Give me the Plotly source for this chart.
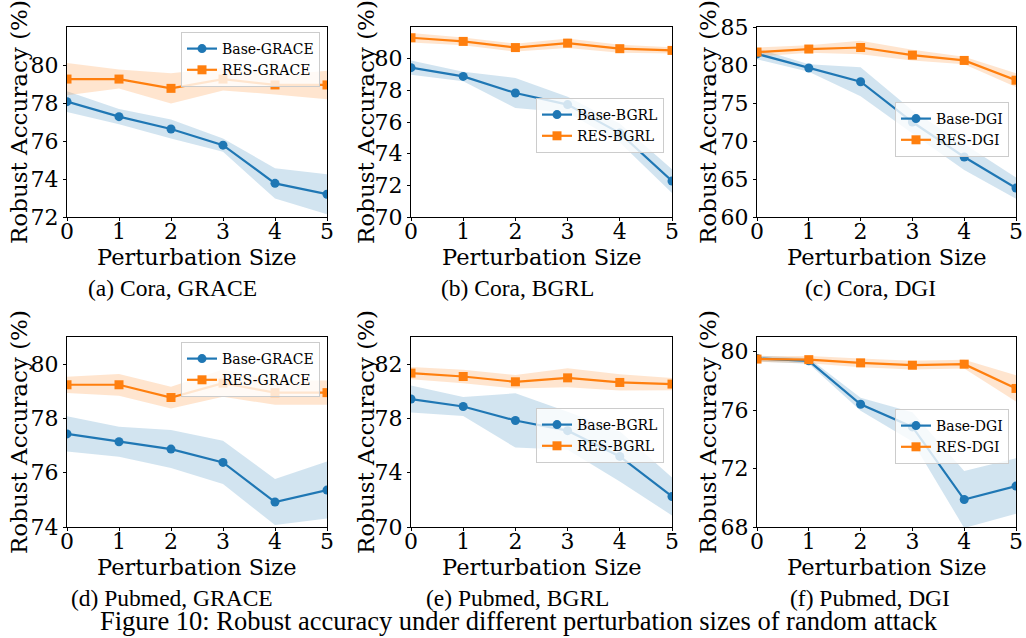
import plotly.graph_objects as go

W, H = 1026, 638

perturbation = [0, 1, 2, 3, 4, 5]
x_ticks = [0, 1, 2, 3, 4, 5]

# (a) Cora, GRACE
a_base_mean = [78.07, 77.28, 76.63, 75.78, 73.77, 73.20]
a_base_std = [0.55, 0.40, 0.50, 0.35, 0.80, 1.05]
a_res_mean = [79.26, 79.26, 78.77, 79.26, 78.95, 78.95]
a_res_std = [0.85, 0.50, 0.80, 0.60, 0.50, 0.75]
# (b) Cora, BGRL
b_base_mean = [79.43, 78.88, 77.83, 77.10, 75.30, 72.27]
b_base_std = [0.45, 0.30, 0.95, 0.50, 0.60, 0.75]
b_res_mean = [81.32, 81.09, 80.70, 80.98, 80.63, 80.52]
b_res_std = [0.30, 0.25, 0.25, 0.30, 0.25, 0.20]
# (c) Cora, DGI
c_base_mean = [81.46, 79.60, 77.80, 72.50, 67.90, 63.80]
c_base_std = [0.70, 0.50, 1.90, 1.50, 1.70, 1.40]
c_res_mean = [81.70, 82.10, 82.30, 81.30, 80.60, 78.00]
c_res_std = [0.60, 0.50, 0.90, 0.70, 0.50, 0.90]
# (d) Pubmed, GRACE
d_base_mean = [77.43, 77.14, 76.87, 76.38, 74.92, 75.36]
d_base_std = [0.65, 0.55, 0.70, 0.80, 0.85, 1.05]
d_res_mean = [79.24, 79.24, 78.77, 79.30, 78.95, 78.95]
d_res_std = [0.30, 0.40, 0.40, 0.50, 0.45, 0.45]
# (e) Pubmed, BGRL
e_base_mean = [79.43, 78.88, 77.85, 77.10, 75.20, 72.25]
e_base_std = [1.00, 0.70, 2.00, 1.40, 1.85, 1.40]
e_res_mean = [81.34, 81.09, 80.70, 80.99, 80.65, 80.53]
e_res_std = [0.45, 0.50, 0.50, 0.70, 0.60, 0.45]
# (f) Pubmed, DGI
f_base_mean = [79.53, 79.37, 76.40, 74.85, 69.88, 70.80]
f_base_std = [0.20, 0.20, 0.45, 1.00, 1.95, 1.90]
f_res_mean = [79.49, 79.45, 79.23, 79.07, 79.14, 77.48]
f_res_std = [0.20, 0.25, 0.30, 0.30, 0.30, 0.90]

methods = ["GRACE", "BGRL", "DGI", "GRACE", "BGRL", "DGI"]
captions = ["(a) Cora, GRACE", "(b) Cora, BGRL", "(c) Cora, DGI",
            "(d) Pubmed, GRACE", "(e) Pubmed, BGRL", "(f) Pubmed, DGI"]
y_ranges = [[72, 82], [70, 82], [60, 85], [74, 81], [70, 84], [68, 81]]
y_tickvals = [[72, 74, 76, 78, 80], [70, 72, 74, 76, 78, 80], [60, 65, 70, 75, 80, 85],
              [74, 76, 78, 80], [70, 74, 78, 82], [68, 72, 76, 80]]
fig_title = "Figure 10: Robust accuracy under different perturbation sizes of random attack"
y_title = "Robust Accuracy (%)"
x_title = "Perturbation Size"

panels = [
    (a_base_mean, a_base_std, a_res_mean, a_res_std),
    (b_base_mean, b_base_std, b_res_mean, b_res_std),
    (c_base_mean, c_base_std, c_res_mean, c_res_std),
    (d_base_mean, d_base_std, d_res_mean, d_res_std),
    (e_base_mean, e_base_std, e_res_mean, e_res_std),
    (f_base_mean, f_base_std, f_res_mean, f_res_std),
]

# layout geometry (pixels)
col_x = [(67, 327), (411, 672), (757, 1016)]
row_y = [(27, 217), (337, 527)]
caption_cx = [172, 517, 870]
legend_right = [320, 664, 1009]
legend_top = [[32, 98, 102], [342, 408, 409]]
ytitle_off = [48, 45, 49]

BLUE = "#1f77b4"
ORANGE = "#ff7f0e"
BLUE_FILL = "rgba(31,119,180,0.2)"
ORANGE_FILL = "rgba(255,127,14,0.2)"
SERIF = "DejaVu Serif"
TIMES = "Liberation Serif"

fig = go.Figure()
layout = dict(width=W, height=H, margin=dict(l=0, r=0, t=0, b=0, autoexpand=False),
              paper_bgcolor="white", plot_bgcolor="white", showlegend=True)
annotations = []

for i, (bm, bs, rm, rs) in enumerate(panels):
    r, c = divmod(i, 3)
    sfx = "" if i == 0 else str(i + 1)
    xa, ya = "x" + sfx, "y" + sfx
    lg = "legend" + sfx
    x0, x1 = col_x[c]
    yt, yb = row_y[r]

    for mean, std, fill in [(bm, bs, BLUE_FILL), (rm, rs, ORANGE_FILL)]:
        upper = [m + s for m, s in zip(mean, std)]
        lower = [m - s for m, s in zip(mean, std)]
        fig.add_trace(go.Scatter(
            x=perturbation + perturbation[::-1], y=upper + lower[::-1],
            fill="toself", fillcolor=fill, line=dict(width=0), mode="lines",
            hoverinfo="skip", showlegend=False, xaxis=xa, yaxis=ya))
    for mean, col, sym, name in [
        (bm, BLUE, "circle", "Base-" + methods[i]),
        (rm, ORANGE, "square", "RES-" + methods[i]),
    ]:
        fig.add_trace(go.Scatter(
            x=perturbation, y=mean, mode="lines+markers", name=name,
            line=dict(color=col, width=2.2),
            marker=dict(symbol=sym, size=9, color=col),
            xaxis=xa, yaxis=ya, legend=lg))

    layout["xaxis" + sfx] = dict(
        domain=[x0 / W, x1 / W], anchor=ya, range=[0, 5], tickvals=x_ticks,
        showline=True, mirror=True, linecolor="black", linewidth=1,
        ticks="outside", ticklen=3, tickcolor="black", showgrid=False, zeroline=False,
        ticklabelstandoff=-8,
        tickfont=dict(family=SERIF, size=22, color="black"))
    layout["yaxis" + sfx] = dict(
        domain=[1 - yb / H, 1 - yt / H], anchor=xa, range=y_ranges[i], tickvals=y_tickvals[i],
        showline=True, mirror=True, linecolor="black", linewidth=1,
        ticks="outside", ticklen=3, tickcolor="black", showgrid=False, zeroline=False,
        tickfont=dict(family=SERIF, size=22, color="black"))
    layout[lg] = dict(
        x=legend_right[c] / W, y=1 - legend_top[r][c] / H, xanchor="right", yanchor="top",
        xref="paper", yref="paper",
        bgcolor="rgba(255,255,255,0.8)", bordercolor="#cccccc", borderwidth=1,
        font=dict(family=SERIF, size=14, color="black"), itemwidth=30,
        tracegroupgap=0)

    # axis titles
    annotations.append(dict(
        text=x_title, x=(x0 + x1) / 2 / W, y=1 - (yb + 40) / H, xref="paper", yref="paper",
        showarrow=False, xanchor="center", yanchor="middle",
        font=dict(family=SERIF, size=22.5, color="black")))
    annotations.append(dict(
        text=y_title, x=(x0 - ytitle_off[c]) / W, y=1 - (yt + yb) / 2 / H, xref="paper", yref="paper",
        showarrow=False, xanchor="center", yanchor="middle", textangle=-90,
        font=dict(family=SERIF, size=23, color="black")))
    # caption
    annotations.append(dict(
        text=captions[i], x=caption_cx[c] / W, y=1 - (yb + 71) / H, xref="paper", yref="paper",
        showarrow=False, xanchor="center", yanchor="middle",
        font=dict(family=TIMES, size=23.5, color="black")))

annotations.append(dict(
    text=fig_title, x=519 / W, y=1 - 621 / H, xref="paper", yref="paper",
    showarrow=False, xanchor="center", yanchor="middle",
    font=dict(family=TIMES, size=26.5, color="black")))

layout["annotations"] = annotations
fig.update_layout(**layout)
fig.write_html("out.html", config={"displayModeBar": False},
               post_script="document.body.style.margin='0px';document.body.style.overflow='hidden';")
